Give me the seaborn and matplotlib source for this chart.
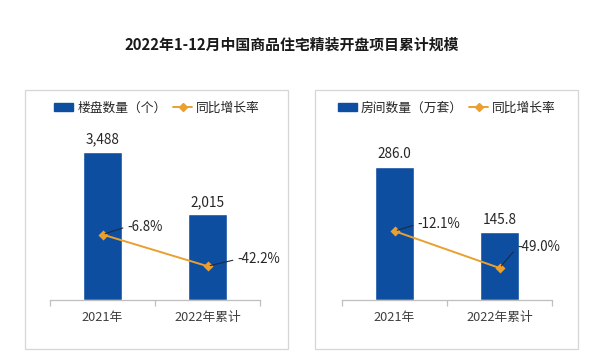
import matplotlib.pyplot as plt
import matplotlib.patches as mpatches
from matplotlib.lines import Line2D
import seaborn as sns

# data
categories = ["2021年", "2022年累计"]
project_counts = [3488, 2015]
project_growth = [-6.8, -42.2]
room_counts = [286.0, 145.8]
room_growth = [-12.1, -49.0]

title = "2022年1-12月中国商品住宅精装开盘项目累计规模"
bar_blue = "#0E4EA0"
line_orange = "#E9A030"
text_dark = "#262626"

sns.set_theme(style="white")
plt.rcParams["font.family"] = ["Noto Sans CJK SC", "DejaVu Sans"]

W, H = 600, 355
fig = plt.figure(figsize=(6, 3.55), dpi=100)
fig.patch.set_facecolor("white")


def fx(px):
    return px / W


def fy(py):
    return 1 - py / H


def draw_panel(left_px, values, growth, bar_name, fmt, ymax, ylim2, offsets, box, legend_xy):
    # panel frame
    x0, y0, x1, y1 = box
    fig.add_artist(mpatches.Rectangle((fx(x0), fy(y1)), fx(x1 - x0), (y1 - y0) / H,
                                      transform=fig.transFigure, fill=False,
                                      edgecolor="#D6D6D6", linewidth=0.9))

    ax = fig.add_axes([fx(left_px), fy(300), fx(210), 170 / H])
    sns.barplot(x=categories, y=values, ax=ax, color=bar_blue, width=0.38,
                saturation=1, errorbar=None)
    ax.set_xlim(-0.5, 1.5)
    ax.set_ylim(0, ymax)
    ax.bar_label(ax.containers[0], fmt=fmt, padding=4, fontsize=9.8, color=text_dark)

    for side in ["top", "left", "right"]:
        ax.spines[side].set_visible(False)
    ax.spines["bottom"].set_color("#BFBFBF")
    ax.spines["bottom"].set_linewidth(0.9)
    ax.set_yticks([])
    ax.set_xticks([-0.5, 0.5, 1.5], minor=True)
    ax.tick_params(axis="x", which="major", length=0, labelsize=9.2, colors="#404040", pad=8)
    ax.tick_params(axis="x", which="minor", length=4, width=0.9, color="#BFBFBF", direction="out",
                   bottom=True)
    ax.set_xlabel("")
    ax.set_ylabel("")

    ax2 = ax.twinx()
    sns.pointplot(x=categories, y=growth, ax=ax2, color=line_orange, markers="D",
                  markersize=4, linewidth=1.4, errorbar=None)
    ax2.set_xlim(-0.5, 1.5)
    ax2.set_ylim(*ylim2)
    ax2.set_yticks([])
    ax2.set_ylabel("")
    for side in ["top", "left", "right", "bottom"]:
        ax2.spines[side].set_visible(False)

    for i, g in enumerate(growth):
        ax2.annotate(f"{g:.1f}%", xy=(i, g), xytext=offsets[i], textcoords="offset pixels",
                     ha="left", va="center", fontsize=9.6, color=text_dark,
                     arrowprops=dict(arrowstyle="-", color="#1F2A44", lw=0.8,
                                     relpos=(0, 0.5), shrinkA=1, shrinkB=2))

    handles = [mpatches.Patch(color=bar_blue),
               Line2D([], [], color=line_orange, marker="D", markersize=4, linewidth=1.4)]
    fig.legend(handles, [bar_name, "同比增长率"], ncol=2, loc="center",
               bbox_to_anchor=(fx(legend_xy[0]), fy(legend_xy[1])), frameon=False,
               fontsize=9.2, handlelength=1.5, handleheight=0.6, handletextpad=0.3,
               columnspacing=0.5, labelcolor=text_dark)
    return ax


fig.text(fx(292), fy(45), title, ha="center", va="center", fontsize=10.7,
         fontweight="bold", color="#1A1A1A")

draw_panel(50, project_counts, project_growth, "楼盘数量（个）", "{:,.0f}", 4000, (-80, 110),
           [(25, 8), (30, 7)], (25, 90, 288, 349), (157, 108))
draw_panel(342, room_counts, room_growth, "房间数量（万套）", "{:.1f}", 365, (-81, 89),
           [(23, 7), (18, 21)], (315, 90, 578, 349), (447, 108))

fig.savefig("out.png", dpi=100, facecolor="white")
